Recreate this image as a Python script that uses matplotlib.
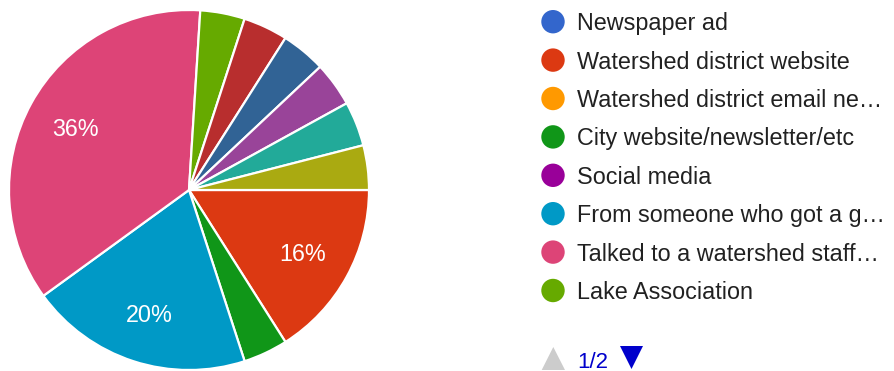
import numpy as np
import matplotlib
matplotlib.use("Agg")
import matplotlib.pyplot as plt
from matplotlib.patches import Circle, Polygon

plt.rcParams["font.family"] = ["Liberation Sans", "DejaVu Sans"]

# Legend entries shown on the first legend page
categories = [
    "Newspaper ad",
    "Watershed district website",
    "Watershed district email ne\u2026",
    "City website/newsletter/etc",
    "Social media",
    "From someone who got a g\u2026",
    "Talked to a watershed staff\u2026",
    "Lake Association",
]
# Response counts: the eight entries above, then five more on legend page 2
counts = [0, 4, 0, 1, 0, 5, 9, 1, 1, 1, 1, 1, 1]
colors = [
    "#3366cc", "#dc3912", "#ff9900", "#109618", "#990099", "#0099c6",
    "#dd4477", "#66aa00", "#b82e2e", "#316395", "#994499", "#22aa99",
    "#aaaa11",
]
page_label = "1/2"

W, H = 894, 371
fig = plt.figure(figsize=(W / 100, H / 100), dpi=100)

# Pie: centre (189, 190) px from top-left, radius 180 px
cx, cy, R = 189, 190, 180
ax = fig.add_axes([(cx - R) / W, (H - cy - R) / H, 2 * R / W, 2 * R / H])

vals = np.array(counts, dtype=float)
total = vals.sum()
keep = vals > 0
draw_vals = vals[keep]
draw_cols = [c for c, k in zip(colors, keep) if k]

wedges, _ = ax.pie(
    draw_vals, colors=draw_cols, startangle=0, counterclock=False,
    radius=1.0, wedgeprops=dict(edgecolor="white", linewidth=1.6),
)
ax.set_xlim(-1, 1)
ax.set_ylim(-1, 1)
ax.set_aspect("equal")
ax.axis("off")

fs = 16.8
cap_half = 0.716 * fs * 100 / 72 / 2 / R  # half cap height in data units
for w, v in zip(wedges, draw_vals):
    pct = v / total * 100
    if pct < 10:
        continue
    ang = np.deg2rad((w.theta1 + w.theta2) / 2)
    x, y = 0.72 * np.cos(ang), 0.72 * np.sin(ang)
    ax.text(x, y - cap_half, f"{pct:.0f}%", color="white", fontsize=fs,
            ha="center", va="baseline")

# Legend drawn in pixel coordinates
lg = fig.add_axes([0, 0, 1, 1])
lg.set_xlim(0, W)
lg.set_ylim(H, 0)
lg.axis("off")
lg.patch.set_alpha(0)

y0, step = 21.7, 38.4
for i, (name, col) in enumerate(zip(categories, colors)):
    yc = y0 + i * step
    lg.add_patch(Circle((553, yc), 11.7, color=col, lw=0))
    lg.text(577, yc + 8.5, name, fontsize=fs, color="#212121",
            ha="left", va="baseline")

# Legend page navigation
lg.add_patch(Polygon([[541.7, 370], [565, 370], [553.3, 347]],
                     closed=True, color="#cccccc", lw=0))
lg.text(577.5, 367.5, page_label, fontsize=16, color="#0000cc",
        ha="left", va="baseline")
lg.add_patch(Polygon([[620, 346], [643, 346], [631.5, 369]],
                     closed=True, color="#0000cc", lw=0))

fig.savefig("out.png", dpi=100, facecolor="white")
